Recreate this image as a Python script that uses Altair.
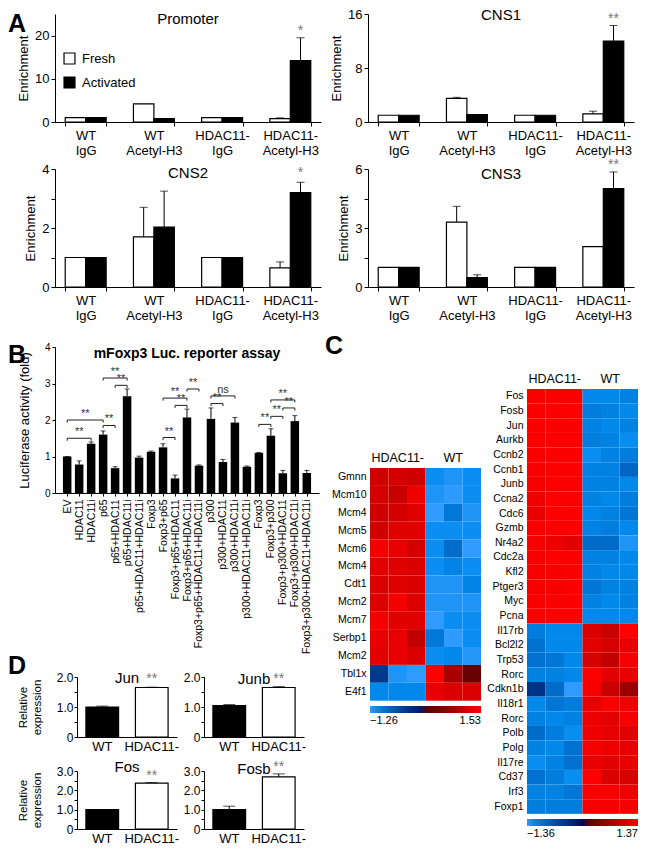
import json
import altair as alt
import pandas as pd

FONT = "Liberation Sans"

# ---------------- Panel A: ChIP enrichment ----------------
a_groups = ["WT|IgG", "WT|Acetyl-H3", "HDAC11-|IgG", "HDAC11-|Acetyl-H3"]
a_conds = ["Fresh", "Activated"]

promoter_fresh = [1.0, 4.2, 1.0, 0.8]
promoter_act = [1.0, 0.8, 1.0, 14.2]
promoter_fresh_err = [None, None, None, 0.95]
promoter_act_err = [None, None, None, 19.5]

cns1_fresh = [1.0, 3.5, 1.0, 1.2]
cns1_act = [1.0, 1.1, 1.0, 12.0]
cns1_fresh_err = [None, 3.65, None, 1.6]
cns1_act_err = [None, None, None, 14.3]

cns2_fresh = [1.0, 1.7, 1.0, 0.65]
cns2_act = [1.0, 2.03, 1.0, 3.2]
cns2_fresh_err = [None, 2.7, None, 0.85]
cns2_act_err = [None, 3.25, None, 3.55]

cns3_fresh = [1.0, 3.3, 1.0, 2.05]
cns3_act = [1.0, 0.48, 1.0, 5.0]
cns3_fresh_err = [None, 4.1, None, None]
cns3_act_err = [None, 0.62, None, 5.85]

a_titles = ["Promoter", "CNS1", "CNS2", "CNS3"]
a_title_offset = [-15, -15, -18, -24]
a_sig_text = ["*", "**", "*", "**"]
a_sig_y = [21.0, 15.3, 3.85, 6.2]
a_ymax = [25, 16, 4, 6]
a_yticks = [[0, 10, 20], [0, 8, 16], [0, 1, 2, 3, 4], [0, 1.5, 3, 4.5, 6]]
a_label_step = [10, 8, 2, 3]

# ---------------- Panel B: luciferase reporter ----------------
b_labels = ["EV", "HDAC11", "HDAC11i", "p65", "p65+HDAC11", "p65+HDAC11i",
            "p65+HDAC11+HDAC11i", "Foxp3", "Foxp3+p65", "Foxp3+p65+HDAC11",
            "Foxp3+p65+HDAC11i", "Foxp3+p65+HDAC11+HDAC11i", "p300", "p300+HDAC11",
            "p300+HDAC11i", "p300+HDAC11+HDAC11i", "Foxp3", "Foxp3+p300",
            "Foxp3+p300+HDAC11", "Foxp3+p300+HDAC11i", "Foxp3+p300+HDAC11+HDAC11i"]
b_values = [1.0, 0.78, 1.35, 1.6, 0.68, 2.65, 0.97, 1.13, 1.25, 0.4, 2.07,
            0.75, 2.03, 0.85, 1.93, 0.72, 1.1, 1.57, 0.54, 1.97, 0.55]
b_err_top = [1.0, 0.88, 1.4, 1.7, 0.72, 2.85, 1.01, 1.15, 1.35, 0.49, 2.3,
             0.77, 2.33, 0.92, 2.07, 0.74, 1.11, 1.76, 0.62, 2.12, 0.62]
b_br_from = [0, 0, 3, 4, 3, 8, 8, 9, 10, 12, 12, 16, 17, 18, 17]
b_br_to = [2, 3, 5, 5, 4, 9, 10, 10, 11, 13, 14, 17, 18, 19, 19]
b_br_y = [1.5, 2.0, 3.15, 2.95, 1.85, 1.52, 2.6, 2.4, 2.85, 2.45, 2.66, 1.88, 2.1, 2.33, 2.55]
b_br_text = ["**", "**", "**", "**", "**", "**", "**", "**", "**", "**", "ns",
             "**", "**", "**", "**"]

# ---------------- Panel C: heatmaps ----------------
hl_genes = ["Gmnn", "Mcm10", "Mcm4", "Mcm5", "Mcm6", "Mcm4", "Cdt1", "Mcm2",
            "Mcm7", "Serbp1", "Mcm2", "Tbl1x", "E4f1"]
hl_values = [
    [1.15, 1.20, 1.15, -1.15, -1.20, -1.15],
    [1.20, 1.10, 1.40, -1.20, -1.25, -1.15],
    [1.15, 1.20, 1.30, -1.26, -0.95, -1.20],
    [1.15, 1.30, 1.30, -1.15, -1.15, -1.15],
    [1.45, 1.35, 1.20, -1.15, -0.85, -1.26],
    [1.30, 1.30, 1.25, -1.15, -1.05, -1.15],
    [1.25, 1.30, 1.25, -1.20, -1.20, -1.05],
    [1.25, 1.45, 1.25, -1.20, -1.20, -1.20],
    [1.45, 1.30, 1.30, -1.26, -1.15, -1.15],
    [1.35, 1.35, 1.05, -0.95, -1.26, -1.15],
    [1.30, 1.35, 1.25, -1.15, -1.10, -1.22],
    [-0.35, -1.20, -1.26, 1.53, 0.85, 0.30],
    [-1.10, -1.10, -1.10, 1.35, 1.25, 1.25],
]
hl_scale = [-1.26, 0.135, 1.53]

hr_genes = ["Fos", "Fosb", "Jun", "Aurkb", "Ccnb2", "Ccnb1", "Junb", "Ccna2",
            "Cdc6", "Gzmb", "Nr4a2", "Cdc2a", "Kfl2", "Ptger3", "Myc", "Pcna",
            "Il17rb", "Bcl2l2", "Trp53", "Rorc", "Cdkn1b", "Il18r1", "Rorc",
            "Polb", "Polg", "Il17re", "Cd37", "Irf3", "Foxp1"]
hr_values = [
    [1.35, 1.35, 1.35, -1.20, -1.20, -1.15],
    [1.35, 1.35, 1.37, -1.10, -1.15, -1.20],
    [1.35, 1.35, 1.35, -1.15, -1.20, -1.15],
    [1.35, 1.35, 1.35, -1.10, -1.15, -1.25],
    [1.35, 1.35, 1.35, -1.25, -1.15, -1.10],
    [1.30, 1.35, 1.35, -1.15, -1.15, -0.90],
    [1.30, 1.35, 1.35, -1.15, -1.15, -1.20],
    [1.25, 1.35, 1.35, -1.15, -1.20, -1.10],
    [1.20, 1.35, 1.35, -1.20, -1.15, -1.05],
    [1.30, 1.35, 1.35, -1.15, -1.10, -1.20],
    [1.30, 1.25, 1.15, -0.95, -0.95, -1.30],
    [1.30, 1.35, 1.35, -1.15, -1.15, -1.20],
    [1.30, 1.30, 1.35, -1.15, -1.20, -1.20],
    [1.30, 1.30, 1.35, -1.05, -1.15, -1.15],
    [1.35, 1.35, 1.35, -1.15, -1.20, -1.15],
    [1.35, 1.35, 1.35, -1.20, -1.20, -1.20],
    [-1.10, -1.20, -1.20, 1.10, 0.95, 1.37],
    [-1.00, -1.20, -1.20, 1.15, 1.05, 1.20],
    [-1.00, -1.05, -1.20, 1.05, 0.90, 1.30],
    [-1.15, -1.15, -1.20, 1.37, 1.15, 1.20],
    [-0.40, -0.95, -1.36, 1.30, 0.95, 0.60],
    [-1.20, -1.05, -1.10, 1.20, 1.30, 1.25],
    [-1.15, -1.20, -1.15, 1.25, 1.15, 1.30],
    [-0.95, -1.10, -1.25, 1.25, 1.20, 1.15],
    [-1.15, -1.20, -1.00, 1.30, 1.25, 1.20],
    [-1.25, -1.15, -1.00, 1.20, 1.15, 1.20],
    [-1.00, -1.10, -1.25, 1.37, 1.10, 1.05],
    [-1.15, -1.15, -1.05, 1.30, 1.30, 1.25],
    [-1.10, -1.10, -1.10, 1.30, 1.30, 1.30],
]
hr_scale = [-1.36, 0.005, 1.37]

# ---------------- Panel D: qPCR ----------------
d_genes = ["Jun", "Junb", "Fos", "Fosb"]
d_groups = ["WT", "HDAC11-"]
d_wt = [1.0, 1.05, 1.0, 1.0]
d_ko = [1.65, 1.65, 2.37, 2.7]
d_wt_err = [1.03, 1.08, None, 1.18]
d_ko_err = [1.66, 1.68, 2.4, 2.85]
d_sig_y = [1.95, 1.92, 2.75, 3.2]
d_ymax = [2.0, 2.0, 3.0, 3.0]
d_title_offset = [-32, -16, -10, -17]

GRAY = "#777777"


def letter_mark(t, lx, ly):
    return alt.Chart(pd.DataFrame({"t": [t]})).mark_text(
        fontSize=25, fontWeight="bold", align="left", baseline="top", color="black", font=FONT
    ).encode(text="t:N", x=alt.value(lx), y=alt.value(ly))


def spacer(w, h, t="", lx=0, ly=0):
    return letter_mark(t, lx, ly).properties(width=w, height=h)


# ---------- builders ----------
def panel_a(k, fresh, act, ferr, aerr, width, height, legend, letter=None):
    rows = []
    for g, f, a, fe, ae in zip(a_groups, fresh, act, ferr, aerr):
        rows.append({"grp": g, "cond": "Fresh", "val": f, "err": fe})
        rows.append({"grp": g, "cond": "Activated", "val": a, "err": ae})
    df = pd.DataFrame(rows)

    x = alt.X("grp:N", sort=a_groups, title=None,
              scale=alt.Scale(paddingInner=0.4, paddingOuter=0.15),
              axis=alt.Axis(labelAngle=0, labelExpr="split(datum.label, '|')",
                            labelFontSize=13, labelLineHeight=15, tickBand="extent",
                            tickSize=4, labelPadding=3))
    xo = alt.XOffset("cond:N", sort=a_conds,
                     scale=alt.Scale(domain=a_conds, paddingInner=0, paddingOuter=0))

    def yenc(field):
        return alt.Y(field, title="Enrichment",
                     scale=alt.Scale(domain=[0, a_ymax[k]], nice=False),
                     axis=alt.Axis(values=a_yticks[k],
                                   labelExpr=f"datum.value % {a_label_step[k]} == 0 ? datum.label : ''",
                                   labelFontSize=13, tickSize=4, titleFontSize=13,
                                   titlePadding=4, labelPadding=2))

    if legend:
        leg = alt.Legend(title=None, orient="none", legendX=8, legendY=38,
                         symbolType="square", symbolSize=120, symbolStrokeColor="black",
                         symbolStrokeWidth=1.2, labelFontSize=13, rowPadding=7,
                         labelOffset=6, labelFont=FONT)
    else:
        leg = None
    fill = alt.Fill("cond:N", sort=a_conds,
                    scale=alt.Scale(domain=a_conds, range=["white", "black"]), legend=leg)

    bars = alt.Chart(df).mark_bar(stroke="black", strokeWidth=1.2).encode(
        x=x, xOffset=xo, y=yenc("val:Q"), fill=fill)
    edf = df.dropna(subset=["err"])
    rule = alt.Chart(edf).mark_rule(color="black").encode(
        x=x, xOffset=xo, y=yenc("val:Q"), y2="err:Q")
    cap = alt.Chart(edf).mark_tick(color="black", size=8, thickness=1, orient="horizontal").encode(
        x=x, xOffset=xo, y=yenc("err:Q"))
    sdf = pd.DataFrame({"grp": [a_groups[3]], "cond": ["Activated"],
                        "sy": [a_sig_y[k]], "t": [a_sig_text[k]]})
    star = alt.Chart(sdf).mark_text(color=GRAY, fontSize=14, baseline="middle").encode(
        x=x, xOffset=xo, y=yenc("sy:Q"), text="t:N")
    layers = [bars, rule, cap, star]
    if letter:
        layers.append(letter_mark(letter, -47, -2))
    return alt.layer(*layers).properties(
        width=width, height=height,
        title=alt.TitleParams(a_titles[k], fontSize=15, fontWeight="normal",
                              offset=a_title_offset[k], anchor="middle", frame="group", font=FONT))


def panel_b():
    df = pd.DataFrame({"idx": list(range(len(b_labels))), "val": b_values, "err": b_err_top})
    br = pd.DataFrame({"x1": b_br_from, "x2": b_br_to, "by": b_br_y, "t": b_br_text})
    br["mid"] = (br["x1"] + br["x2"]) / 2
    br["low"] = br["by"] - 0.07
    js = json.dumps(b_labels)

    def xenc(field):
        return alt.X(field, title=None,
                     scale=alt.Scale(domain=[-0.6, len(b_labels) - 0.4], nice=False, zero=False),
                     axis=alt.Axis(values=list(range(len(b_labels))),
                                   labelExpr=f"{js}[datum.value]", labelAngle=270,
                                   labelAlign="right", labelBaseline="middle",
                                   labelFontSize=10.5, labelOverlap=False, tickSize=3,
                                   labelPadding=3, grid=False))

    def yenc(field):
        return alt.Y(field, title="Luciferase activity (fold)",
                     scale=alt.Scale(domain=[0, 4], nice=False),
                     axis=alt.Axis(values=[0, 1, 2, 3, 4], labelFontSize=10, tickSize=3,
                                   titleFontSize=13, titlePadding=13))

    bars = alt.Chart(df).mark_bar(color="black", width=8.5).encode(x=xenc("idx:Q"), y=yenc("val:Q"))
    rule = alt.Chart(df).mark_rule(color="black").encode(x=xenc("idx:Q"), y=yenc("val:Q"), y2="err:Q")
    cap = alt.Chart(df).mark_tick(color="black", size=5, thickness=1, orient="horizontal").encode(
        x=xenc("idx:Q"), y=yenc("err:Q"))
    hline = alt.Chart(br).mark_rule(color="#222").encode(x=xenc("x1:Q"), x2="x2:Q", y=yenc("by:Q"))
    lend = alt.Chart(br).mark_rule(color="#222").encode(x=xenc("x1:Q"), y=yenc("low:Q"), y2="by:Q")
    rend = alt.Chart(br).mark_rule(color="#222").encode(x=xenc("x2:Q"), y=yenc("low:Q"), y2="by:Q")
    txt = alt.Chart(br).mark_text(color="#333", fontSize=11, dy=-6, baseline="middle").encode(
        x=xenc("mid:Q"), y=yenc("by:Q"), text="t:N")
    return alt.layer(bars, rule, cap, hline, lend, rend, txt, letter_mark("B", -47, -4)).properties(
        width=264, height=146,
        title=alt.TitleParams("mFoxp3 Luc. reporter assay", fontSize=14, fontWeight="bold",
                              offset=-19, anchor="middle", frame="group", font=FONT))


def panel_d(k, h, first):
    """first=True: leftmost panel of a row; the plot is shifted 22px right inside a wider view."""
    df = pd.DataFrame({"grp": d_groups, "val": [d_wt[k], d_ko[k]],
                       "err": [d_wt_err[k], d_ko_err[k]]})
    ymax = d_ymax[k]
    ticks = [i * 0.5 for i in range(int(ymax * 2) + 1)]
    shift = 22 if first else 0
    w = 100 + shift
    xscale = alt.Scale(paddingInner=0.34, paddingOuter=0.18, range=[shift, w])
    x = alt.X("grp:N", sort=d_groups, title=None, scale=xscale,
              axis=alt.Axis(labelAngle=0, labelFontSize=13, ticks=False, labelPadding=3))

    def yenc(field):
        return alt.Y(field, title=["Relative", "expression"] if first else None,
                     scale=alt.Scale(domain=[0, ymax], nice=False),
                     axis=alt.Axis(values=ticks, offset=-shift,
                                   labelExpr="datum.value % 1 == 0 ? (datum.value == 0 ? '0' : format(datum.value, '.1f')) : ''",
                                   labelFontSize=12, tickSize=3, titleFontSize=11.5,
                                   titlePadding=14, labelPadding=1))

    fill = alt.Fill("grp:N", sort=d_groups,
                    scale=alt.Scale(domain=d_groups, range=["black", "white"]), legend=None)
    bars = alt.Chart(df).mark_bar(stroke="black", strokeWidth=1.2).encode(x=x, y=yenc("val:Q"), fill=fill)
    edf = df.dropna(subset=["err"])
    rule = alt.Chart(edf).mark_rule(color="black").encode(x=x, y=yenc("val:Q"), y2="err:Q")
    cap = alt.Chart(edf).mark_tick(color="black", size=12, thickness=1, orient="horizontal").encode(
        x=x, y=yenc("err:Q"))
    sdf = pd.DataFrame({"grp": ["HDAC11-"], "sy": [d_sig_y[k]], "t": ["**"]})
    star = alt.Chart(sdf).mark_text(color=GRAY, fontSize=14, baseline="middle").encode(
        x=x, y=yenc("sy:Q"), text="t:N")
    layers = [bars, rule, cap, star]
    if k == 0:
        layers.append(letter_mark("D", -47, -23))
    return alt.layer(*layers).properties(
        width=w, height=h,
        title=alt.TitleParams(d_genes[k], fontSize=15, fontWeight="normal",
                              offset=d_title_offset[k], anchor="middle", frame="group",
                              dx=shift / 2, font=FONT))


def heatmap(genes, values, scale_pts, row_h, col_w):
    rows = []
    for r, vals in enumerate(values):
        for c, v in enumerate(vals):
            rows.append({"row": r, "col": c, "v": v})
    df = pd.DataFrame(rows)
    js = json.dumps(genes)
    w = col_w * 6
    return alt.Chart(df).mark_rect().encode(
        x=alt.X("col:O", title=None,
                axis=alt.Axis(orient="top", values=[1, 4],
                              labelExpr="datum.value == 1 ? 'HDAC11-' : 'WT'",
                              ticks=False, domain=False, labelAngle=0, labelFontSize=12.5,
                              labelPadding=4)),
        y=alt.Y("row:O", title=None,
                axis=alt.Axis(labelExpr=f"{js}[datum.value]", ticks=False, domain=False,
                              labelFontSize=10.5, labelPadding=4)),
        color=alt.Color("v:Q",
                        scale=alt.Scale(domain=scale_pts, range=["#2f9bff", "#000000", "#ff0000"]),
                        legend=alt.Legend(orient="bottom", direction="horizontal", title=None,
                                          gradientLength=w, gradientThickness=7,
                                          values=[scale_pts[0], scale_pts[2]], format=".2f",
                                          labelFontSize=11, offset=5, padding=0,
                                          labelFont=FONT)),
    ).properties(width=w, height=row_h * len(genes))


# ---------- assemble ----------
promoter = panel_a(0, promoter_fresh, promoter_act, promoter_fresh_err, promoter_act_err, 266, 108, True, "A")
cns1 = panel_a(1, cns1_fresh, cns1_act, cns1_fresh_err, cns1_act_err, 266, 108, False)
cns2 = panel_a(2, cns2_fresh, cns2_act, cns2_fresh_err, cns2_act_err, 266, 118, False)
cns3 = panel_a(3, cns3_fresh, cns3_act, cns3_fresh_err, cns3_act_err, 266, 118, False)

rowA1 = alt.hconcat(promoter, cns1, spacing=9).resolve_scale(fill="independent")
rowA2 = alt.hconcat(cns2, cns3, spacing=16).resolve_scale(fill="independent")
groupA = alt.vconcat(rowA1, rowA2, spacing=1)

chartB = panel_b()
rowD1 = alt.hconcat(panel_d(0, 60, True), panel_d(1, 60, False), spacing=4)
rowD2 = alt.hconcat(panel_d(2, 58, True), panel_d(3, 58, False), spacing=4)
groupD = alt.vconcat(rowD1, rowD2, spacing=7)
groupBD = alt.vconcat(chartB, groupD, spacing=0)

heat_left = heatmap(hl_genes, hl_values, hl_scale, 17.9, 18.5)
heat_right = heatmap(hr_genes, hr_values, hr_scale, 14.65, 18.5)
left_col = alt.vconcat(spacer(111, 62), heat_left, spacing=0)
heat_row = alt.hconcat(left_col, heat_right, spacing=5).resolve_scale(color="independent")
groupC = alt.vconcat(spacer(111, 25, "C", -45, -13), heat_row, spacing=0)

lower = alt.hconcat(groupBD, groupC, spacing=6)

chart = alt.vconcat(groupA, lower, spacing=12).properties(
    padding={"left": 0, "top": 0, "right": 0, "bottom": 0}
).configure(font=FONT).configure_view(stroke=None).configure_axis(
    labelFont=FONT, titleFont=FONT, domainColor="black", tickColor="black",
    labelColor="black", titleColor="black", grid=False, titleFontWeight="normal"
).configure_title(font=FONT, color="black").configure_legend(labelFont=FONT, labelColor="black")

chart.save("out.html", embed_options={"renderer": "svg", "actions": False})
